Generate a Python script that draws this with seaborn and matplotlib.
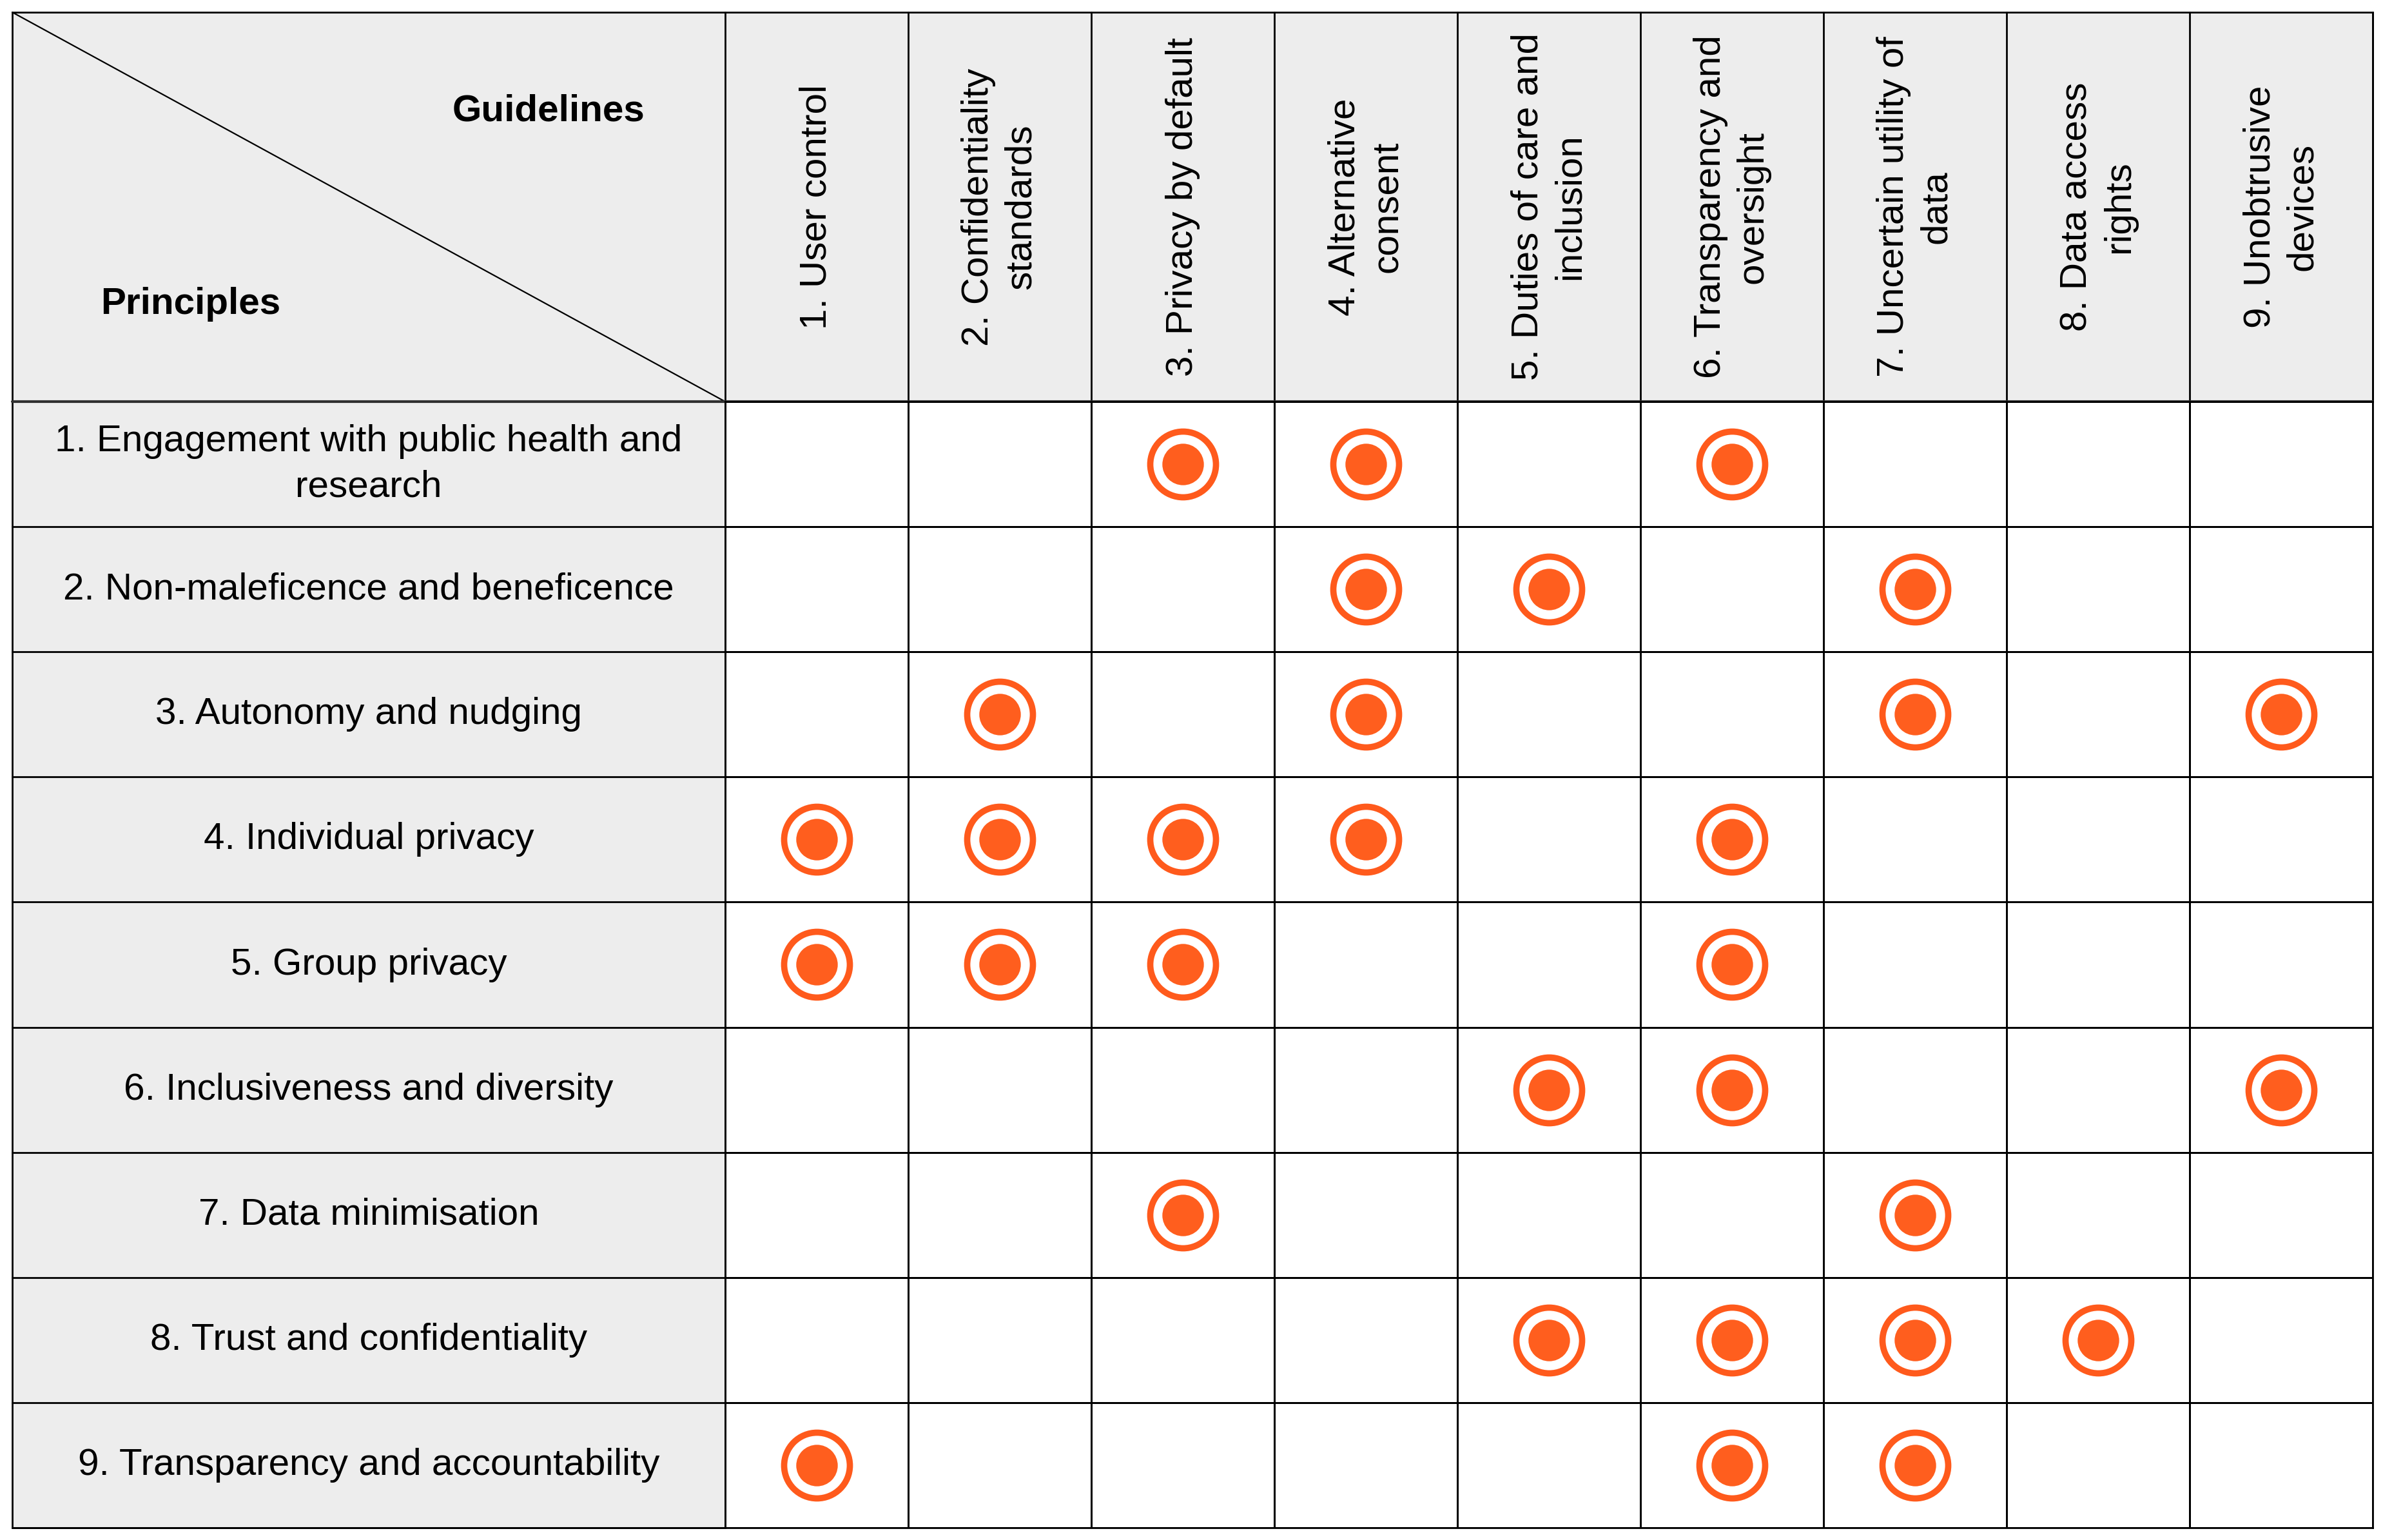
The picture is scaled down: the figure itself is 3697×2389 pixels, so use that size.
import numpy as np
import pandas as pd
import matplotlib
matplotlib.use("Agg")
import matplotlib.pyplot as plt
from matplotlib.colors import ListedColormap
from matplotlib.patches import Rectangle
import seaborn as sns

# ---------------- data ----------------
principles = [
    "1. Engagement with public health and\nresearch",
    "2. Non-maleficence and beneficence",
    "3. Autonomy and nudging",
    "4. Individual privacy",
    "5. Group privacy",
    "6. Inclusiveness and diversity",
    "7. Data minimisation",
    "8. Trust and confidentiality",
    "9. Transparency and accountability",
]
guidelines = [
    "1. User control",
    "2. Confidentiality\nstandards",
    "3. Privacy by default",
    "4. Alternative\nconsent",
    "5. Duties of care and\ninclusion",
    "6. Transparency and\noversight",
    "7. Uncertain utility of\ndata",
    "8. Data access\nrights",
    "9. Unobtrusive\ndevices",
]
# guideline numbers linked to each principle
p1_links = [3, 4, 6]
p2_links = [4, 5, 7]
p3_links = [2, 4, 7, 9]
p4_links = [1, 2, 3, 4, 6]
p5_links = [1, 2, 3, 6]
p6_links = [5, 6, 9]
p7_links = [3, 7]
p8_links = [5, 6, 7, 8]
p9_links = [1, 6, 7]
all_links = [p1_links, p2_links, p3_links, p4_links, p5_links,
             p6_links, p7_links, p8_links, p9_links]

matrix = np.zeros((len(principles), len(guidelines)))
for i, lk in enumerate(all_links):
    for g in lk:
        matrix[i, g - 1] = 1
rows, cols = np.nonzero(matrix)
points = pd.DataFrame({"x": cols + 0.5, "y": rows + 0.5})

# ---------------- style ----------------
sns.set_theme(style="white")
plt.rcParams["font.family"] = ["Liberation Sans", "DejaVu Sans"]
plt.rcParams["text.color"] = "black"

GRAY = "#EDEDED"
ORANGE_RING = "#FF5A1C"
ORANGE_DISC = "#FF5E1E"
FS = 42

W, H = 3697, 2389
X0, XC, X1 = 19, 1125, 3681
Y0, YH, Y1 = 19, 623, 2370
ncol, nrow = len(guidelines), len(principles)
cw = (X1 - XC) / ncol
rh = (Y1 - YH) / nrow

fig = plt.figure(figsize=(W / 100, H / 100), dpi=100)
fig.patch.set_facecolor("white")

# background axes in pixel coordinates
bg = fig.add_axes([0, 0, 1, 1])
bg.set_xlim(0, W)
bg.set_ylim(H, 0)
bg.axis("off")

LW = 2.0
bg.add_patch(Rectangle((X0, Y0), X1 - X0, YH - Y0, facecolor=GRAY,
                       edgecolor="black", linewidth=LW))
bg.add_patch(Rectangle((X0, YH), XC - X0, Y1 - YH, facecolor=GRAY,
                       edgecolor="black", linewidth=LW))
for k in range(ncol + 1):
    x = XC + k * cw
    bg.plot([x, x], [Y0, YH], color="black", linewidth=LW)
for k in range(nrow + 1):
    y = YH + k * rh
    bg.plot([X0, XC], [y, y], color="black", linewidth=LW)
bg.plot([X0, XC], [Y0, YH], color="black", linewidth=1.6)
bg.plot([X0, X1], [YH, YH], color="#303030", linewidth=3.0)

bg.text(851, 172, "Guidelines", fontsize=FS, fontweight="bold",
        ha="center", va="center", color="black")
bg.text(296, 472, "Principles", fontsize=FS, fontweight="bold",
        ha="center", va="center", color="black")

for j, lab in enumerate(guidelines):
    bg.text(XC + (j + 0.5) * cw, (Y0 + YH) / 2, lab, rotation=90,
            fontsize=FS, ha="center", va="center", multialignment="center",
            linespacing=1.28, color="black")
for i, lab in enumerate(principles):
    bg.text((X0 + XC) / 2, YH + (i + 0.5) * rh, lab,
            fontsize=FS, ha="center", va="center", multialignment="center",
            linespacing=1.4, color="black")

# grid axes
gx = fig.add_axes([XC / W, 1 - Y1 / H, (X1 - XC) / W, (Y1 - YH) / H])
sns.heatmap(np.zeros_like(matrix), cmap=ListedColormap(["white"]), cbar=False,
            linewidths=LW, linecolor="black", xticklabels=False,
            yticklabels=False, ax=gx)

sns.scatterplot(data=points, x="x", y="y", s=5390, color="white",
                edgecolor=ORANGE_RING, linewidth=7.0, ax=gx, legend=False,
                zorder=5)
sns.scatterplot(data=points, x="x", y="y", s=2150, color=ORANGE_DISC,
                linewidth=0, ax=gx, legend=False, zorder=6)
gx.set_xlim(0, ncol)
gx.set_ylim(nrow, 0)
gx.set_xlabel("")
gx.set_ylabel("")
gx.set_xticks([])
gx.set_yticks([])
for sp in gx.spines.values():
    sp.set_visible(True)
    sp.set_color("black")
    sp.set_linewidth(LW)

fig.savefig("out.png", dpi=100)
